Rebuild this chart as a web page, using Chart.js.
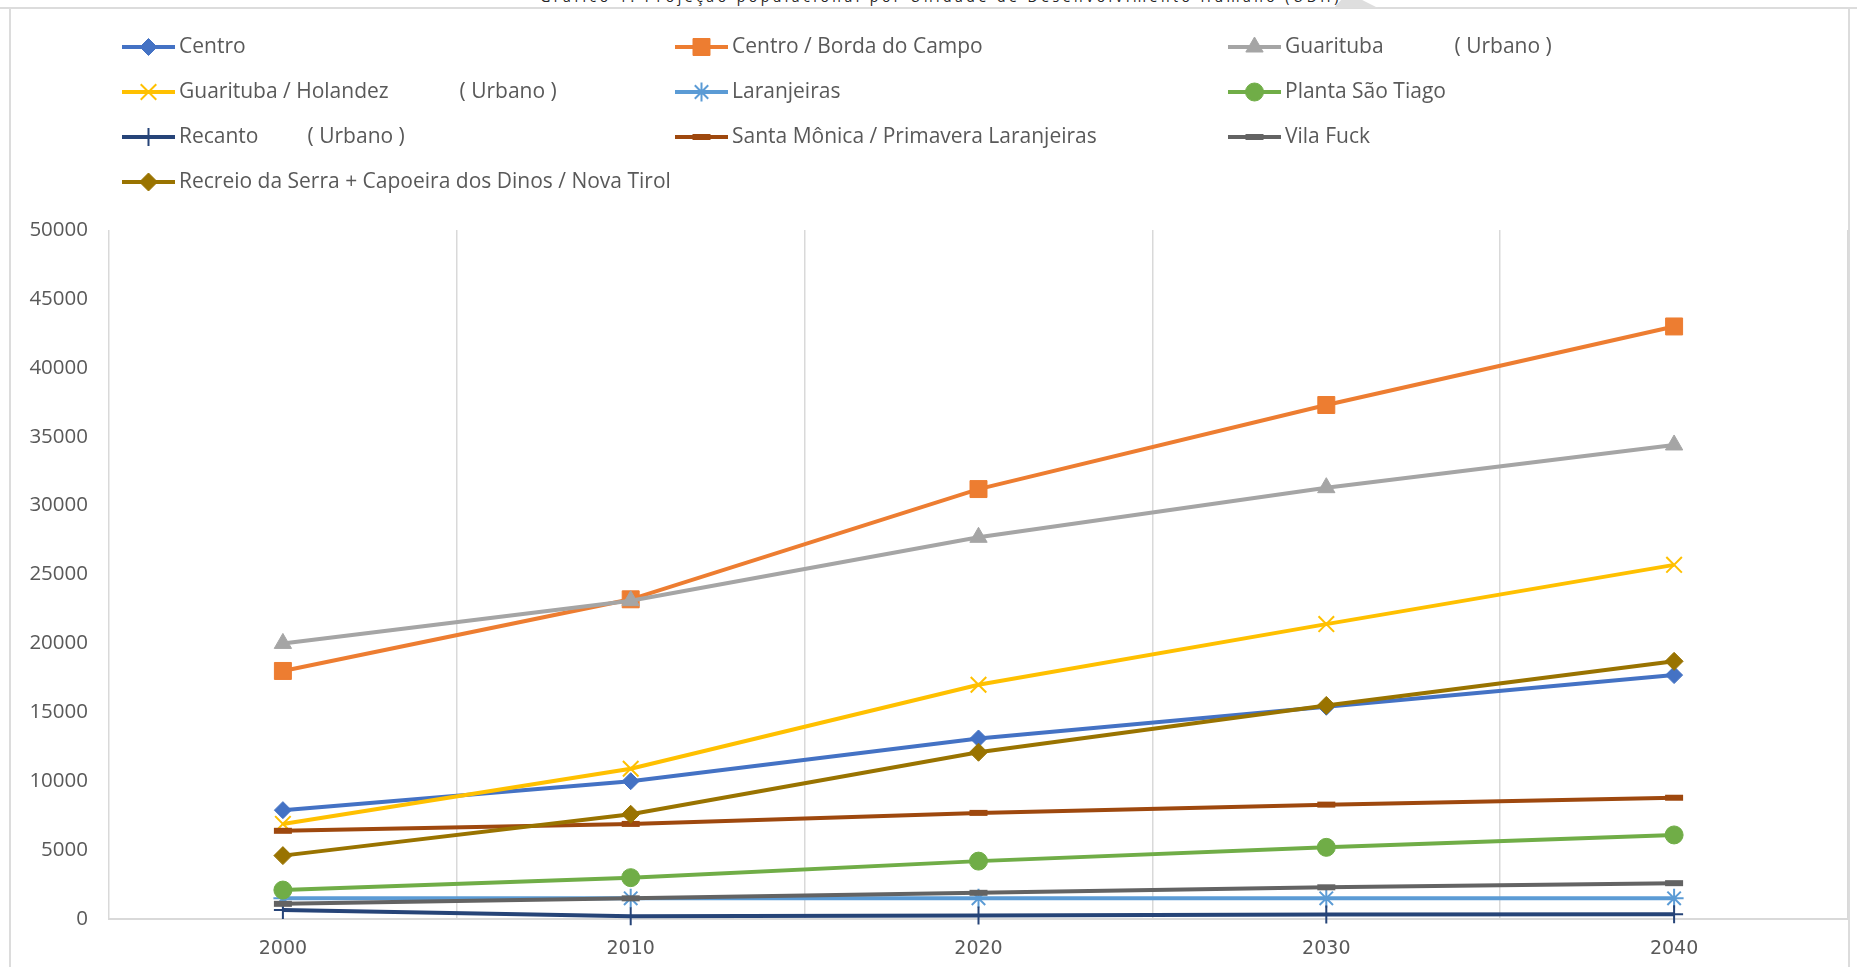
<!DOCTYPE html>
<html>
<head>
<meta charset="utf-8">
<script src="https://cdn.jsdelivr.net/npm/chart.js@4/dist/chart.umd.min.js"></script>
<style>
  html, body { margin: 0; padding: 0; background: #ffffff; overflow: hidden; }
  #wrap { position: relative; width: 1857px; height: 971px; overflow: hidden; }
  #title { position: absolute; left: 491px; width: 900px; top: -11px; text-align: center;
           font-family: "Open Sans", sans-serif; font-size: 14px; line-height: 16px; letter-spacing: 3.5px;
           color: #222; white-space: nowrap; }
  #topline { position: absolute; left: 0; top: 7px; width: 1857px; height: 2px; background: #dcdcdc; }
  #frame { position: absolute; left: 9px; top: 7px; width: 1837px; height: 960px;
           border-left: 2px solid #dcdcdc; border-right: 2px solid #dcdcdc; }
  #peak { position: absolute; left: 1334px; top: 0; width: 44px; height: 8px; background: #dedede;
          clip-path: polygon(0 100%, 16% 0, 64% 0, 100% 100%); }
  canvas { position: absolute; left: 0; top: 0; }
</style>
</head>
<body>
<div id="wrap">
  <div id="frame"></div>
  <div id="topline"></div>
  <div id="peak"></div>
  <div id="title">Gráfico 1: Projeção populacional por Unidade de Desenvolvimento Humano (UDH)</div>
  <canvas id="c" width="1857" height="971"></canvas>
</div>
<script>
// ---- data ----
const years = ['2000', '2010', '2020', '2030', '2040'];
const seriesNames = [
  'Centro',
  'Centro / Borda do Campo',
  'Guarituba             ( Urbano )',
  'Guarituba / Holandez             ( Urbano )',
  'Laranjeiras',
  'Planta São Tiago',
  'Recanto         ( Urbano )',
  'Santa Mônica / Primavera Laranjeiras',
  'Vila Fuck',
  'Recreio da Serra + Capoeira dos Dinos / Nova Tirol'
];
const centro        = [7900, 10000, 13100, 15400, 17700];
const centroBorda   = [18000, 23200, 31200, 37300, 43000];
const guarituba     = [20000, 23100, 27700, 31300, 34400];
const holandez      = [6900, 10900, 17000, 21400, 25700];
const laranjeiras   = [1500, 1500, 1500, 1500, 1500];
const plantaSaoTiago= [2100, 3000, 4200, 5200, 6100];
const recanto       = [650, 200, 250, 330, 350];
const santaMonica   = [6400, 6900, 7700, 8300, 8800];
const vilaFuck      = [1100, 1500, 1900, 2300, 2600];
const recreio       = [4600, 7600, 12100, 15500, 18700];
const yTicks = [0, 5000, 10000, 15000, 20000, 25000, 30000, 35000, 40000, 45000, 50000];

const seriesValues = [centro, centroBorda, guarituba, holandez, laranjeiras,
                      plantaSaoTiago, recanto, santaMonica, vilaFuck, recreio];
const colors = ['#4472C4', '#ED7D31', '#A5A5A5', '#FFC000', '#5B9BD5',
                '#70AD47', '#264478', '#9E480E', '#636363', '#997300'];
const styles = [
  {s: 'rectRot', r: 8.5, bw: 1},
  {s: 'rect', r: 12, bw: 1},
  {s: 'triangle', r: 10, bw: 1},
  {s: 'crossRot', r: 11, bw: 2},
  {s: 'star', r: 9.5, bw: 2},
  {s: 'circle', r: 9, bw: 1},
  {s: 'cross', r: 9, bw: 2},
  {s: 'line', r: 9, bw: 6},
  {s: 'line', r: 9, bw: 6},
  {s: 'rectRot', r: 9, bw: 1}
];

const datasets = seriesNames.map((name, i) => ({
  label: name,
  data: seriesValues[i],
  borderColor: colors[i],
  backgroundColor: colors[i],
  pointBackgroundColor: colors[i],
  pointBorderColor: colors[i],
  borderWidth: 4,
  pointStyle: styles[i].s,
  pointRadius: styles[i].r,
  pointBorderWidth: styles[i].bw,
  pointHoverRadius: styles[i].r,
  tension: 0,
  clip: false,
  order: seriesNames.length - i
}));

// legend layout (3 columns)
const LEG_X = [122, 675, 1228];
const LEG_Y0 = 47, LEG_DY = 45, LEG_LINE = 53;

const gridLegend = {
  id: 'gridLegend',
  afterDraw(chart) {
    const ctx = chart.ctx;
    ctx.save();
    chart.data.datasets.forEach((ds, i) => {
      const col = i % 3, row = Math.floor(i / 3);
      const x0 = LEG_X[col], y = LEG_Y0 + row * LEG_DY;
      ctx.strokeStyle = ds.borderColor;
      ctx.lineWidth = 4;
      ctx.lineCap = 'butt';
      ctx.beginPath(); ctx.moveTo(x0, y); ctx.lineTo(x0 + LEG_LINE, y); ctx.stroke();
      ctx.fillStyle = ds.pointBackgroundColor;
      ctx.strokeStyle = ds.pointBorderColor;
      ctx.lineWidth = ds.pointBorderWidth;
      if (Chart.helpers && Chart.helpers.drawPoint) {
        Chart.helpers.drawPoint(ctx, {pointStyle: ds.pointStyle, radius: ds.pointRadius,
          borderWidth: ds.pointBorderWidth, rotation: 0}, x0 + LEG_LINE / 2, y);
      }
      ctx.fillStyle = '#595959';
      ctx.font = '21px "Open Sans"';
      ctx.textBaseline = 'middle';
      ctx.textAlign = 'left';
      ctx.fillText(ds.label, x0 + LEG_LINE + 4, y);
    });
    ctx.restore();
  }
};

new Chart(document.getElementById('c'), {
  type: 'line',
  data: { labels: years, datasets: datasets },
  options: {
    responsive: false,
    animation: false,
    events: [],
    layout: { autoPadding: false, padding: { top: 230, right: 9, bottom: 0, left: 0 } },
    plugins: { legend: { display: false }, tooltip: { enabled: false }, title: { display: false } },
    scales: {
      x: {
        type: 'category',
        offset: true,
        grid: { offset: true, color: '#d9d9d9', lineWidth: 1.5, drawTicks: false },
        border: { display: true, color: '#d9d9d9', width: 2 },
        ticks: { color: '#595959', font: { family: 'DejaVu Sans', size: 19 }, padding: 19 },
        afterFit(s) { s.height = 52; s.paddingLeft = 0; s.paddingRight = 0; }
      },
      y: {
        min: 0, max: 50000,
        afterBuildTicks(s) { s.ticks = yTicks.map(v => ({ value: v })); },
        grid: { display: false, drawTicks: false },
        border: { display: false },
        ticks: { color: '#595959', font: { family: 'Open Sans', size: 20.5 }, padding: 21,
                 callback: (v) => String(v) },
        afterFit(s) { s.width = 109; }
      }
    }
  },
  plugins: [gridLegend]
});
</script>
</body>
</html>
